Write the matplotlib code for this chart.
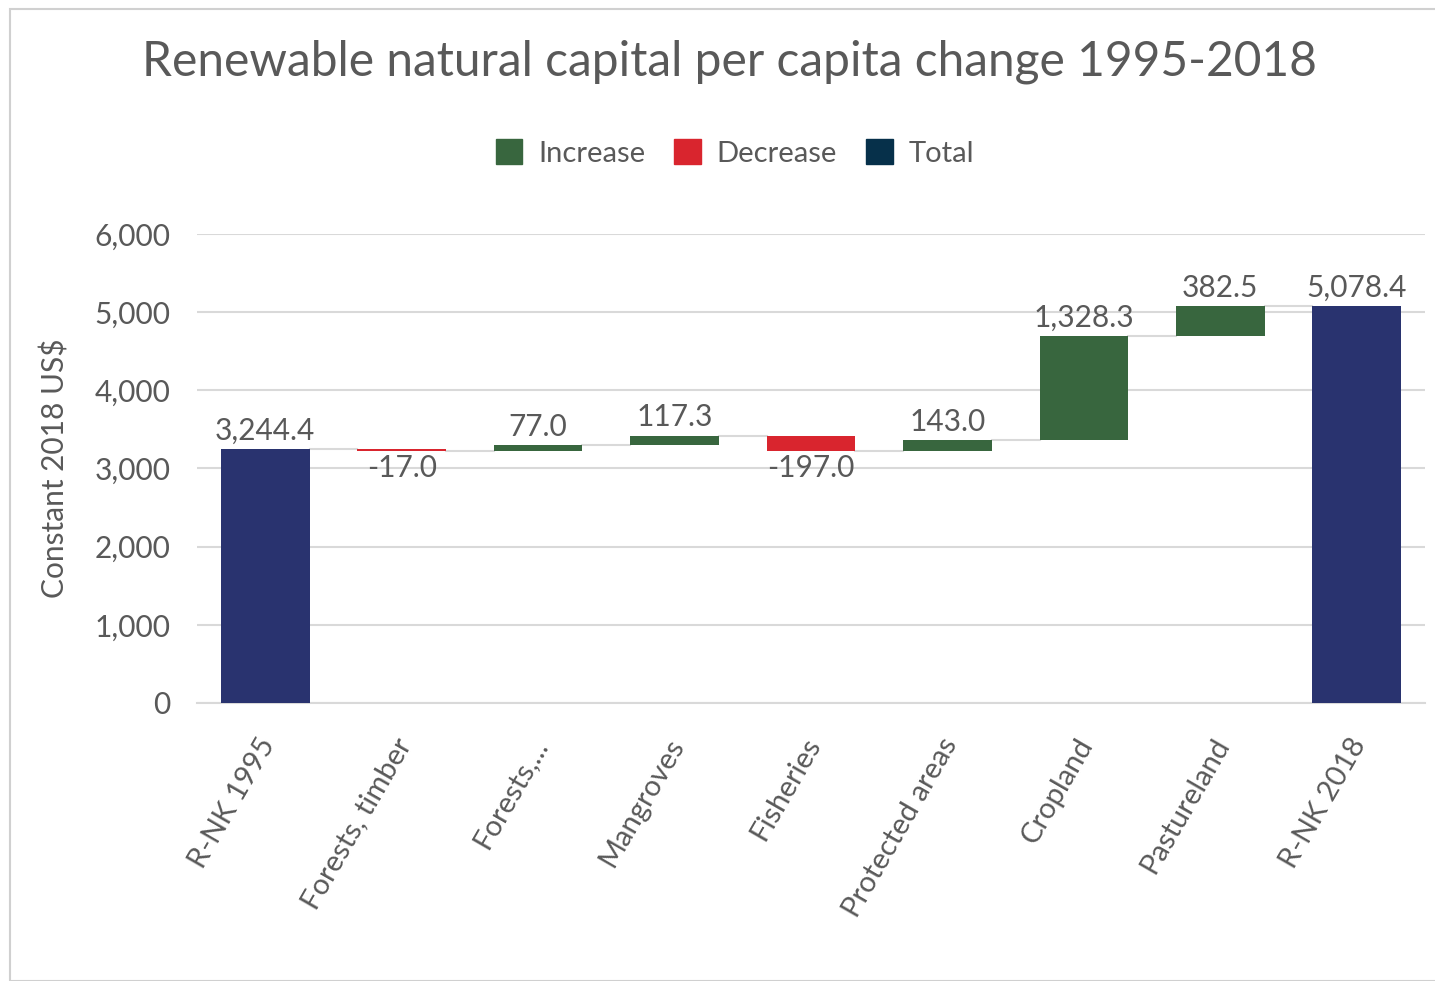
import matplotlib.pyplot as plt
import matplotlib
import matplotlib.transforms as mtransforms
from matplotlib.patches import Patch, Rectangle

matplotlib.rcParams['font.family'] = ['Lato', 'DejaVu Sans']

categories = ["R-NK 1995", "Forests, timber", "Forests,...", "Mangroves", "Fisheries",
              "Protected areas", "Cropland", "Pastureland", "R-NK 2018"]
changes = [3244.4, -17.0, 77.0, 117.3, -197.0, 143.0, 1328.3, 382.5, 5078.4]
is_total = [True, False, False, False, False, False, False, False, True]
labels = ["3,244.4", "-17.0", "77.0", "117.3", "-197.0", "143.0", "1,328.3", "382.5", "5,078.4"]

c_up = "#38663E"
c_down = "#D9252E"
c_total = "#29336F"
c_legend_total = "#06304A"
c_text = "#595959"
c_grid = "#D9D9D9"

fig = plt.figure(figsize=(14.35, 9.81), dpi=100)
ax = fig.add_axes([197 / 1435, 1 - 703 / 981, (1425 - 197) / 1435, (703 - 234) / 981])

w = 0.65
level = 0.0
tops = []
for i, (v, tot) in enumerate(zip(changes, is_total)):
    if tot:
        bottom, height, col = 0, v, c_total
        level = v
    else:
        bottom = level if v >= 0 else level + v
        height = abs(v)
        col = c_up if v >= 0 else c_down
        level += v
    ax.bar(i, height, bottom=bottom, width=w, color=col, zorder=3)
    tops.append(level)
    if v >= 0 or tot:
        ax.annotate(labels[i], (i, bottom + height), xytext=(0, 3), textcoords="offset points",
                    ha="center", va="bottom", fontsize=21.5, color=c_text)
    else:
        ax.annotate(labels[i], (i, bottom), xytext=(0, -2), textcoords="offset points",
                    ha="center", va="top", fontsize=21.5, color=c_text)

# connectors between bars
for i in range(len(changes) - 1):
    ax.plot([i + w / 2, i + 1 - w / 2], [tops[i], tops[i]], color=c_grid, lw=1.5, zorder=2)

ax.set_xlim(-0.5, len(categories) - 0.5)
ax.set_ylim(0, 6000)
ax.set_yticks(range(0, 6001, 1000))
ax.set_yticklabels([f"{t:,}" for t in range(0, 6001, 1000)])
ax.grid(axis="y", color=c_grid, lw=1.5, zorder=0)
for s in ["left", "right", "top"]:
    ax.spines[s].set_visible(False)
ax.spines["bottom"].set_color(c_grid)
ax.spines["bottom"].set_linewidth(1.5)
ax.tick_params(axis="both", length=0, labelsize=21.5, colors=c_text)
ax.tick_params(axis="y", pad=19)
ax.set_xticks(range(len(categories)))
ax.set_xticklabels(categories, rotation=60, ha="right", rotation_mode="anchor", fontsize=21)
ax.tick_params(axis="x", pad=22)
shift = mtransforms.ScaledTranslation(-8 / 100, 0, fig.dpi_scale_trans)
for lab in ax.get_xticklabels():
    lab.set_transform(lab.get_transform() + shift)
ax.set_ylabel("Constant 2018 US$", fontsize=21.5, color=c_text, labelpad=18)

fig.text(0.5 + 12 / 1435, 1 - 62 / 981, "Renewable natural capital per capita change 1995-2018",
         ha="center", va="center", fontsize=34.5, color=c_text)

handles = [Patch(color=c_up, label="Increase"), Patch(color=c_down, label="Decrease"),
           Patch(color=c_legend_total, label="Total")]
fig.legend(handles=handles, loc="center", bbox_to_anchor=(735 / 1435, 1 - 153 / 981), ncol=3,
           frameon=False, fontsize=21, labelcolor=c_text, handlelength=0.9, handleheight=0.9,
           columnspacing=1.0, handletextpad=0.55)

fig.patches.append(Rectangle((10 / 1435, 0), 1, 1 - 9 / 981, transform=fig.transFigure,
                             fill=False, edgecolor="#D0D0D0", lw=1.5))

fig.savefig("out.png", dpi=100)
